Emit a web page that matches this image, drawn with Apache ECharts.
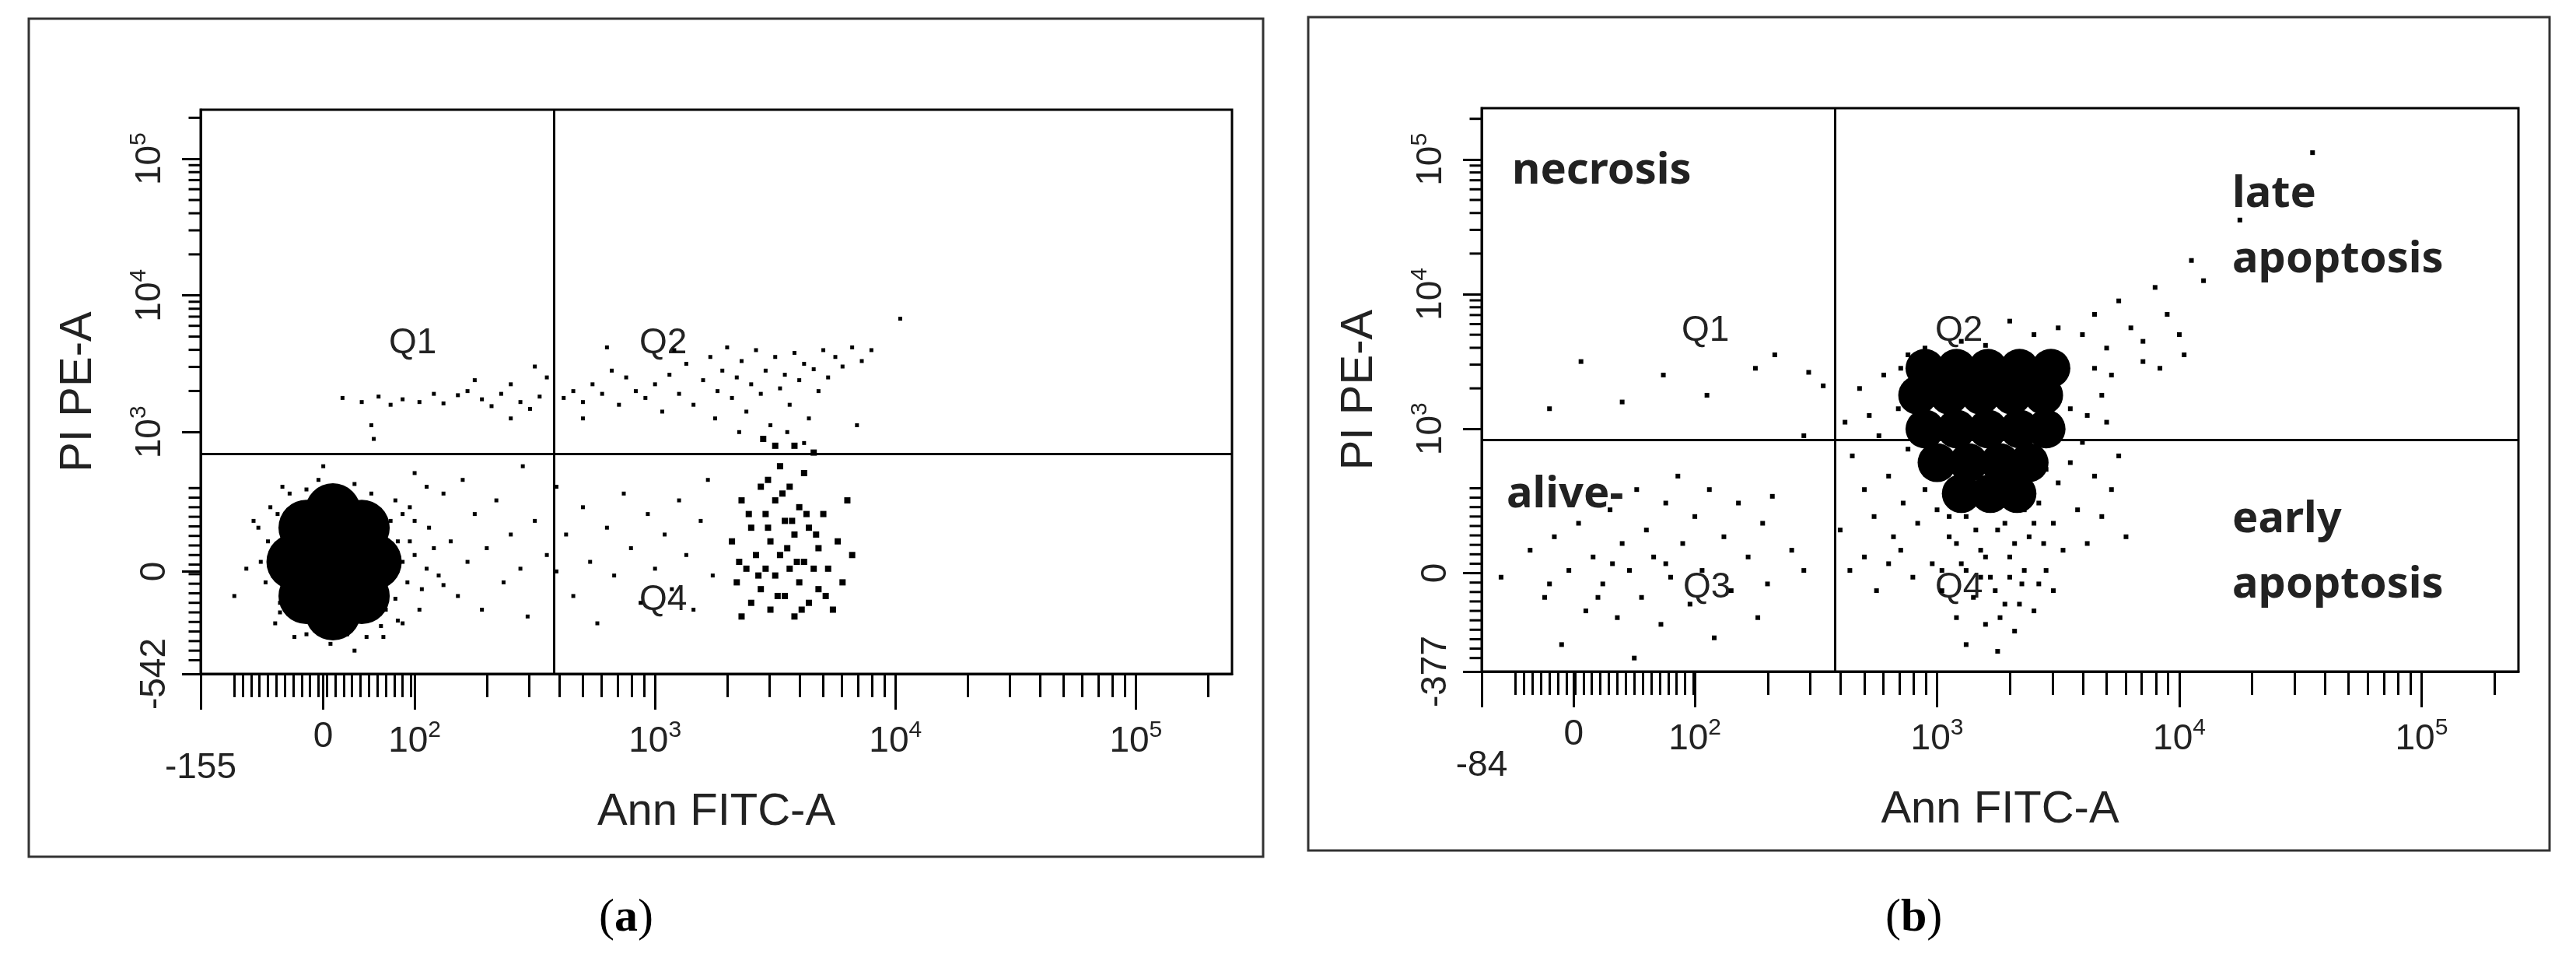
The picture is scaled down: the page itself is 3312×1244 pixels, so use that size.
<!DOCTYPE html>
<html>
<head>
<meta charset="utf-8">
<script src="https://cdn.jsdelivr.net/npm/echarts@6/dist/echarts.min.js"></script>
<style>
html,body{margin:0;padding:0;background:#fff;}
#chart{width:3312px;height:1244px;}
</style>
</head>
<body>
<div id="chart"></div>
<script>
// axis units: decade position (10^2 -> 2, 10^3 -> 3 ...), linear part below 10^2
var axA = {xMin: 1.11, xZero: 1.62, xMax: 5.40, yMin: 1.23, yZero: 1.98, yMax: 5.36, gateX: 2.58, gateY: 2.84};
var axB = {xMin: 1.12, xZero: 1.50, xMax: 5.40, yMin: 1.20, yZero: 1.93, yMax: 5.38, gateX: 2.58, gateY: 2.92};
var xLabelsA = ['-155', '0', '10^2', '10^3', '10^4', '10^5'];
var yLabelsA = ['-542', '0', '10^3', '10^4', '10^5'];
var xLabelsB = ['-84', '0', '10^2', '10^3', '10^4', '10^5'];
var yLabelsB = ['-377', '0', '10^3', '10^4', '10^5'];

// panel (a)
var blobA = [[1.55,1.80],[1.67,1.80],[1.78,1.80],[1.55,2.05],[1.67,2.05],[1.78,2.05],[1.55,2.30],[1.67,2.30],[1.78,2.30],[1.50,2.05],[1.83,2.05],[1.66,1.68],[1.66,2.42]];
var dotsA = [
 [1.70,3.25],[1.78,3.22],[1.85,3.26],[1.90,3.20],[1.95,3.24],[2.02,3.22],[2.08,3.28],[2.12,3.21],[2.18,3.27],[2.22,3.30],[2.28,3.24],[2.32,3.19],[2.36,3.28],[2.40,3.35],[2.44,3.22],[2.48,3.17],[2.52,3.26],[2.55,3.40],[1.82,3.05],[2.25,3.38],[2.50,3.48],[1.83,2.95],[2.40,3.10],
 [2.62,3.25],[2.66,3.30],[2.70,3.22],[2.74,3.35],[2.78,3.28],[2.82,3.45],[2.85,3.20],[2.88,3.40],[2.92,3.30],[2.96,3.25],[3.0,3.35],[3.03,3.15],[3.06,3.42],[3.10,3.28],[3.13,3.50],[3.16,3.20],[3.20,3.38],[3.23,3.55],[3.26,3.30],[3.28,3.45],[3.30,3.62],[3.32,3.25],[3.34,3.40],[3.36,3.52],[3.38,3.15],[3.40,3.35],[3.42,3.60],[3.44,3.28],[3.46,3.45],[3.48,3.05],[3.50,3.55],[3.52,3.32],[3.54,3.42],[3.56,3.20],[3.58,3.58],[3.60,3.38],[3.62,3.50],[3.64,3.10],[3.66,3.46],[3.68,3.30],[3.70,3.60],[3.72,3.40],[3.75,3.55],[3.78,3.48],[3.82,3.62],[3.86,3.52],[3.90,3.60],[3.84,3.05],[4.02,3.83],[3.35,3.00],[3.45,2.95],[3.55,3.00],[3.62,2.92],[3.25,3.10],[2.80,3.62],[2.70,3.10],[3.08,3.60],
 [1.95,2.40],[2.0,2.10],[2.03,1.85],[2.06,2.30],[2.10,1.95],[2.12,2.55],[2.15,2.20],[2.18,1.80],[2.22,2.05],[2.25,2.40],[2.28,1.70],[2.30,2.15],[2.34,2.50],[2.37,1.90],[2.40,2.25],[2.44,2.00],[2.47,1.65],[2.50,2.35],[2.55,2.10],[2.59,2.60],[2.59,1.98],[2.63,2.25],[2.66,1.80],[2.70,2.45],[2.73,2.05],[2.76,1.60],[2.80,2.30],[2.83,1.95],[2.87,2.55],[2.90,2.15],[2.94,1.75],[2.97,2.40],[3.00,2.00],[3.04,2.25],[3.07,1.85],[3.10,2.50],[3.13,2.10],[3.16,1.70],[3.19,2.35],[3.22,2.65],[3.24,1.95],[2.20,2.65],[2.45,2.75],[1.40,2.10],[1.35,2.30],[1.44,1.75],[1.38,1.90],[1.87,1.50],[1.75,1.40],
 [1.40,2.45],[1.42,1.60],[1.92,2.50],[1.95,1.60],[1.88,1.70],[1.93,2.2],[1.97,1.9],[2.0,2.35],[1.45,2.6],[1.6,2.65],[1.75,2.62],[1.50,1.5],[1.65,1.45],[1.80,1.5],[1.30,2.0],[1.25,1.8],[1.33,2.35],[2.05,2.6],[1.62,2.75],[2.0,2.7],
 [1.92,1.78],[1.95,2.05],[1.98,2.20],[2.02,1.70],[2.05,2.00],[1.90,2.35],[1.93,1.62],[1.39,2.20],[1.41,1.95],[1.43,2.40],[1.44,1.68],[1.48,2.55],[1.55,2.58],[1.70,2.58],[1.82,2.55],[1.55,1.52],[1.72,1.52],[1.86,1.58],[1.36,2.05],[1.98,2.45],[2.08,2.15],[2.12,1.88]
];
var clusterA = [[3.32,2.2],[3.34,1.9],[3.36,2.5],[3.38,2.0],[3.40,1.75],[3.40,2.3],[3.42,2.1],[3.44,1.85],[3.44,2.6],[3.46,2.0],[3.46,2.4],[3.48,1.7],[3.48,2.2],[3.50,1.95],[3.50,2.5],[3.52,2.1],[3.52,2.75],[3.54,1.8],[3.54,2.35],[3.56,2.0],[3.56,2.6],[3.58,1.65],[3.58,2.25],[3.60,1.9],[3.60,2.45],[3.62,2.05],[3.62,2.7],[3.64,1.75],[3.64,2.3],[3.66,2.0],[3.68,2.15],[3.68,1.85],[3.70,2.4],[3.72,2.0],[3.74,1.70],[3.76,2.2],[3.78,1.9],[3.80,2.5],[3.82,2.1],[3.36,1.65],[3.50,2.9],[3.58,2.9],[3.66,2.85],[3.45,2.95],
 [3.35,2.05],[3.39,2.40],[3.43,1.95],[3.47,2.30],[3.51,1.80],[3.55,2.15],[3.59,2.05],[3.63,2.40],[3.67,2.25],[3.71,1.80],[3.53,2.55],[3.47,2.65],[3.61,1.70],[3.57,2.35]];

// panel (b)
var blobB = [[2.95,3.45],[3.08,3.45],[3.21,3.45],[3.34,3.45],[3.47,3.45],[2.92,3.25],[3.05,3.25],[3.18,3.25],[3.31,3.25],[3.44,3.25],[2.95,3.0],[3.08,3.0],[3.21,3.0],[3.34,3.0],[3.45,3.0],[3.00,2.75],[3.13,2.75],[3.26,2.75],[3.38,2.75],[3.10,2.52],[3.22,2.52],[3.33,2.52]];
var dotsB = [
 [1.20,1.90],[1.32,2.10],[1.38,1.75],[1.42,2.20],[1.48,1.95],[1.52,2.30],[1.55,1.65],[1.58,2.05],[1.62,1.85],[1.65,2.40],[1.68,1.60],[1.70,2.15],[1.73,1.95],[1.76,2.55],[1.78,1.75],[1.80,2.25],[1.83,2.05],[1.86,1.55],[1.88,2.45],[1.90,1.90],[1.93,2.65],[1.95,2.15],[1.98,1.70],[2.00,2.35],[2.03,1.95],[2.06,2.55],[2.08,1.45],[2.12,2.20],[2.15,1.80],[2.18,2.45],[2.22,2.05],[2.26,1.60],[2.28,2.30],[2.30,1.85],[2.32,2.50],[2.40,2.10],[2.45,1.95],[1.45,1.40],[1.75,1.30],[1.60,1.75],[1.66,2.00],[1.88,2.00],[1.40,1.85],
 [1.53,3.50],[1.87,3.40],[1.70,3.20],[1.40,3.15],[2.05,3.25],[2.25,3.45],[2.33,3.55],[2.47,3.42],[2.53,3.32],[2.45,2.95],
 [2.62,3.05],[2.65,2.80],[2.68,3.30],[2.70,2.55],[2.72,3.10],[2.74,2.35],[2.76,2.95],[2.78,3.40],[2.80,2.65],[2.82,2.20],[2.84,3.15],[2.86,2.45],[2.88,2.85],[2.60,2.25],[2.64,1.95],[2.70,2.05],[2.75,1.80],[2.80,2.00],[2.85,2.10],[2.90,1.90],[2.92,2.30],[2.95,2.55],[2.98,2.00],[3.00,2.40],[3.02,1.80],[3.05,2.20],[3.08,1.60],[3.10,2.00],[3.12,2.35],[3.15,1.75],[3.18,2.10],[3.20,1.55],[3.22,1.90],[3.25,2.25],[3.28,1.70],[3.30,2.05],[3.32,1.50],[3.35,1.85],[3.38,2.20],[3.40,1.65],[3.42,2.45],[3.45,1.95],[3.48,2.30],[3.50,2.60],[3.52,2.10],[3.55,2.75],[3.58,2.40],[3.60,2.90],[3.62,2.15],[3.65,2.65],[3.68,2.35],[3.70,3.05],[3.72,2.55],[3.75,2.80],[3.78,2.20],[3.12,1.40],[3.25,1.35],[3.02,1.95],[3.15,2.55],[3.27,2.50],[3.36,2.40],[3.45,2.70],
 [3.60,3.70],[3.65,3.85],[3.70,3.60],[3.75,3.95],[3.80,3.75],[3.85,3.65],[3.90,4.05],[3.95,3.85],[4.00,3.70],[4.05,4.25],[4.10,4.10],[4.25,4.55],[4.55,5.05],[3.50,3.75],[3.40,3.70],[3.30,3.80],[3.85,3.50],[3.92,3.45],[4.02,3.55],[3.20,3.62],[3.10,3.65],[2.95,3.60],
 [2.88,3.55],[2.85,3.45],[3.65,3.45],[3.72,3.40],[3.68,3.25],[3.62,3.10],[3.55,3.15],
 [3.05,2.35],[3.08,2.15],[3.12,1.95],[3.16,2.25],[3.20,2.05],[3.24,1.80],[3.28,2.30],[3.32,2.15],[3.36,1.95],[3.40,2.30],[3.44,2.15],[3.48,1.80],[3.18,1.90],[3.22,2.40],[3.30,1.90],[3.14,2.45],[3.38,2.55],[3.42,1.85],[3.26,1.60],[3.34,1.70]
];

var FONT = 'Liberation Sans';
var rich = {
    b: {fontSize: 46, fontFamily: FONT, color: '#222'},
    s: {fontSize: 30, fontFamily: FONT, color: '#222', padding: [0, 0, 28, 0]},
    lo: {fontSize: 46, fontFamily: FONT, color: '#222', padding: [40, 0, 0, 0]}
};

function labelText(t, low) {
    if (t.indexOf('^') > 0) {
        var p = t.split('^');
        return '{b|' + p[0] + '}{s|' + p[1] + '}';
    }
    return (low ? '{lo|' : '{b|') + t + '}';
}

function majorPos(min, zero, firstDec, lastDec) {
    var arr = [min, zero];
    for (var d = firstDec; d <= lastDec; d++) arr.push(d);
    return arr;
}

function minorPos(linFrom, linTo, step, firstDec, max) {
    var arr = [];
    for (var v = linFrom; v < linTo; v += step) arr.push(+v.toFixed(3));
    for (var d = firstDec; d < max; d++) {
        for (var m = 2; m <= 9; m++) {
            var u = d + Math.log10(m);
            if (u < max) arr.push(+u.toFixed(3));
        }
    }
    return arr;
}

function makeAxes(ax, gi, xLabels, yLabels) {
    var xMajor = majorPos(ax.xMin, ax.xZero, 2, 5);
    var yMajor = majorPos(ax.yMin, ax.yZero, 3, 5);
    function fmt(pos, labels, lowFirst) {
        return function (v) {
            for (var i = 0; i < pos.length; i++) {
                if (Math.abs(pos[i] - v) < 1e-6) return labelText(labels[i], lowFirst && i === 0);
            }
            return '';
        };
    }
    var lineStyle = {color: '#000', width: 3};
    var xs = [{
        type: 'value', gridIndex: gi, min: ax.xMin, max: ax.xMax, position: 'bottom', offset: 0,
        name: 'Ann FITC-A', nameLocation: 'middle', nameGap: 112,
        nameTextStyle: {fontSize: 58, fontFamily: FONT, color: '#222'},
        splitLine: {show: false},
        axisLine: {show: true, onZero: false, lineStyle: lineStyle},
        axisTick: {show: true, inside: false, length: 46, lineStyle: lineStyle, customValues: xMajor},
        axisLabel: {show: true, margin: 58, customValues: xMajor, formatter: fmt(xMajor, xLabels, true), rich: rich}
    }, {
        type: 'value', gridIndex: gi, min: ax.xMin, max: ax.xMax, position: 'bottom', offset: 0,
        splitLine: {show: false}, axisLine: {show: false, onZero: false},
        axisTick: {show: true, length: 30, lineStyle: {color: '#000', width: 3},
            customValues: minorPos(ax.xMin + 0.14, 2, 0.035, 2, ax.xMax)},
        axisLabel: {show: false}
    }];
    var ys = [{
        type: 'value', gridIndex: gi, min: ax.yMin, max: ax.yMax, position: 'left', offset: 0,
        name: 'PI PE-A', nameLocation: 'middle', nameGap: 128, nameRotate: 90,
        nameTextStyle: {fontSize: 58, fontFamily: FONT, color: '#222'},
        splitLine: {show: false},
        axisLine: {show: true, onZero: false, lineStyle: lineStyle},
        axisTick: {show: true, length: 24, lineStyle: lineStyle, customValues: yMajor},
        axisLabel: {show: true, rotate: 90, margin: 36, customValues: yMajor, formatter: fmt(yMajor, yLabels, false), rich: rich}
    }];
    return {x: xs, y: ys};
}

var axesA = makeAxes(axA, 0, xLabelsA, yLabelsA);
var axesB = makeAxes(axB, 1, xLabelsB, yLabelsB);

// y minor ticks as short marks sitting just outside the left axis line
function yMinorTicks(ax) {
    return minorPos(ax.yMin + 0.1, 2.6, 0.07, 3, ax.yMax).map(function (v) { return [ax.xMin, v]; });
}

function gates(ax) {
    return {
        silent: true, symbol: 'none', label: {show: false},
        lineStyle: {color: '#000', width: 3, type: 'solid', opacity: 1},
        data: [{xAxis: ax.gateX}, {yAxis: ax.gateY}]
    };
}

function txt(x, y, s, size, bold, family) {
    return {type: 'text', left: x, top: y, style: {text: s, fontSize: size, fontWeight: bold ? 'bold' : 'normal',
        fontFamily: family || FONT, fill: '#222'}};
}

var dotStyle = {color: '#000', opacity: 1, borderWidth: 0};

var option = {
    backgroundColor: '#fff',
    animation: false,
    grid: [
        {left: 258, top: 141, width: 1326, height: 725, show: true, borderColor: '#000', borderWidth: 3, backgroundColor: 'transparent'},
        {left: 1905, top: 139, width: 1333, height: 724, show: true, borderColor: '#000', borderWidth: 3, backgroundColor: 'transparent'}
    ],
    xAxis: axesA.x.concat(axesB.x),
    yAxis: axesA.y.concat(axesB.y),
    series: [
        {type: 'scatter', xAxisIndex: 0, yAxisIndex: 0, data: blobA, symbolSize: 72, itemStyle: dotStyle, markLine: gates(axA)},
        {type: 'scatter', xAxisIndex: 0, yAxisIndex: 0, data: dotsA, symbolSize: 5, symbol: 'rect', itemStyle: dotStyle},
        {type: 'scatter', xAxisIndex: 0, yAxisIndex: 0, data: clusterA, symbolSize: 8, symbol: 'rect', itemStyle: dotStyle},
        {type: 'scatter', xAxisIndex: 0, yAxisIndex: 0, data: yMinorTicks(axA), symbol: 'rect', symbolSize: [15, 3],
            symbolOffset: [-8, 0], clip: false, silent: true, itemStyle: dotStyle},
        {type: 'scatter', xAxisIndex: 2, yAxisIndex: 1, data: blobB, symbolSize: 50, itemStyle: dotStyle, markLine: gates(axB)},
        {type: 'scatter', xAxisIndex: 2, yAxisIndex: 1, data: dotsB, symbolSize: 6, symbol: 'rect', itemStyle: dotStyle},
        {type: 'scatter', xAxisIndex: 2, yAxisIndex: 1, data: yMinorTicks(axB), symbol: 'rect', symbolSize: [15, 3],
            symbolOffset: [-8, 0], clip: false, silent: true, itemStyle: dotStyle}
    ],
    graphic: [
        {type: 'rect', shape: {x: 37, y: 24, width: 1587, height: 1077}, style: {fill: 'none', stroke: '#333', lineWidth: 3}},
        {type: 'rect', shape: {x: 1682, y: 22, width: 1596, height: 1071}, style: {fill: 'none', stroke: '#333', lineWidth: 3}},
        txt(500, 418, 'Q1', 46), txt(822, 418, 'Q2', 46), txt(822, 748, 'Q4', 46),
        txt(2162, 402, 'Q1', 46), txt(2488, 402, 'Q2', 46), txt(2164, 732, 'Q3', 46), txt(2488, 732, 'Q4', 46),
        txt(1944, 192, 'necrosis', 56, true, 'Noto Sans'),
        txt(2870, 222, 'late', 56, true, 'Noto Sans'),
        txt(2870, 306, 'apoptosis', 56, true, 'Noto Sans'),
        txt(1937, 608, 'alive-', 56, true, 'Noto Sans'),
        txt(2870, 640, 'early', 56, true, 'Noto Sans'),
        txt(2870, 724, 'apoptosis', 56, true, 'Noto Sans'),
        {type: 'text', left: 770, top: 1150, style: {text: '({b|a})', fontSize: 60, fontFamily: 'Liberation Serif', fill: '#000',
            rich: {b: {fontSize: 60, fontWeight: 'bold', fontFamily: 'Liberation Serif', fill: '#000'}}}},
        {type: 'text', left: 2424, top: 1150, style: {text: '({b|b})', fontSize: 60, fontFamily: 'Liberation Serif', fill: '#000',
            rich: {b: {fontSize: 60, fontWeight: 'bold', fontFamily: 'Liberation Serif', fill: '#000'}}}}
    ]
};

var myChart = echarts.init(document.getElementById('chart'));
myChart.setOption(option);
</script>
</body>
</html>
